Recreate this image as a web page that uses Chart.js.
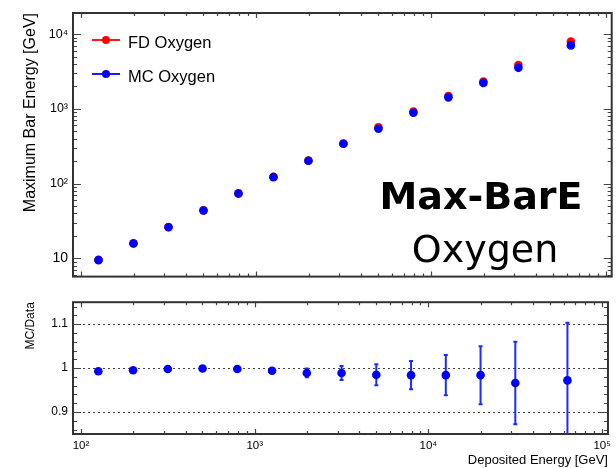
<!DOCTYPE html>
<html>
<head>
<meta charset="utf-8">
<script src="https://cdn.jsdelivr.net/npm/chart.js@4/dist/chart.umd.min.js"></script>
<style>
  html, body { margin: 0; padding: 0; background: #fff; }
  #wrap { position: relative; width: 616px; height: 468px; overflow: hidden; }
  #top { position: absolute; left: 0; top: 0; width: 616px; height: 290px; }
  #bot { position: absolute; left: 0; top: 290px; width: 616px; height: 178px; }
</style>
</head>
<body>
<div id="wrap">
  <div id="top"><canvas id="c1" width="616" height="290"></canvas></div>
  <div id="bot"><canvas id="c2" width="616" height="178"></canvas></div>
</div>
<script>
// Deposited energy bin centres [GeV]
const energies = [125.9, 199.5, 316.2, 501.2, 794.3, 1259, 1995, 3162, 5012, 7943, 12589, 19953, 31623, 63096];
// Maximum bar energy [GeV]
const fdOxygen = [9.6, 15.9, 26.3, 43.9, 74.0, 123, 204, 345, 569, 925, 1486, 2318, 3873, 7960];
const mcOxygen = [9.46, 15.8, 26.1, 43.7, 73.7, 122, 202, 341, 543, 889, 1428, 2227, 3545, 7074];
// MC / Data ratio and its uncertainty
const ratio    = [0.993, 0.995, 0.998, 0.999, 0.998, 0.994, 0.989, 0.989, 0.985, 0.984, 0.984, 0.984, 0.966, 0.972];
const ratioErr = [0.003, 0.003, 0.003, 0.003, 0.003, 0.004, 0.010, 0.016, 0.024, 0.032, 0.046, 0.066, 0.094, 0.131];
// Labelled ticks
const xDecades = [100, 1000, 10000, 100000];
const yDecades = [10, 100, 1000, 10000];
const ratioTicks = [0.9, 1.0, 1.1];

const FONT = '"Liberation Sans", "DejaVu Sans", Arial, sans-serif';
const SUP = { 2: '\u00B2', 3: '\u00B3', 4: '\u2074', 5: '\u2075' };
const powLabel = v => {
  const e = Math.round(Math.log10(v));
  return e === 1 ? '10' : '10' + SUP[e];
};

// minor tick positions of a log axis (2..9 per decade)
function logMinors(lo, hi) {
  const out = [];
  for (let d = 1; d <= 1e6; d *= 10) {
    for (let m = 2; m <= 9; m++) {
      const v = d * m;
      if (v > lo && v < hi) out.push(v);
    }
  }
  return out;
}

// frame around the plot area with inward tick marks on all four sides
const frameTicks = {
  id: 'frameTicks',
  beforeDatasetsDraw(chart, args, o) {
    const { ctx, chartArea: a, scales: { x, y } } = chart;
    ctx.save();
    // dotted reference lines
    if (o.dotted) {
      ctx.strokeStyle = '#444';
      ctx.lineWidth = 1;
      ctx.setLineDash([2, 3]);
      ctx.beginPath();
      for (const v of o.dotted) {
        const py = Math.round(y.getPixelForValue(v)) + 0.5;
        ctx.moveTo(a.left, py); ctx.lineTo(a.right, py);
      }
      ctx.stroke();
      ctx.setLineDash([]);
    }
    ctx.strokeStyle = '#444';
    ctx.lineWidth = 1.2;
    ctx.beginPath();
    const xs = (vals, len) => {
      for (const v of vals) {
        if (v < x.min || v > x.max) continue;
        const px = Math.round(x.getPixelForValue(v)) + 0.5;
        ctx.moveTo(px, a.bottom); ctx.lineTo(px, a.bottom - len);
        ctx.moveTo(px, a.top); ctx.lineTo(px, a.top + len);
      }
    };
    const ys = (vals, len) => {
      for (const v of vals) {
        if (v < y.min || v > y.max) continue;
        const py = Math.round(y.getPixelForValue(v)) + 0.5;
        ctx.moveTo(a.left, py); ctx.lineTo(a.left + len, py);
        ctx.moveTo(a.right, py); ctx.lineTo(a.right - len, py);
      }
    };
    xs(o.xMajor, 5); xs(o.xMinor, 3);
    ys(o.yMajor, 8); ys(o.yMinor, 4);
    ctx.stroke();
    ctx.strokeStyle = '#333';
    ctx.lineWidth = 2;
    ctx.strokeRect(a.left, a.top, a.right - a.left, a.bottom - a.top);
    ctx.restore();
  }
};

// vertical error bars on the ratio points
const errorBars = {
  id: 'errorBars',
  beforeDatasetsDraw(chart, args, o) {
    const { ctx, chartArea: a, scales: { x, y } } = chart;
    ctx.save();
    ctx.beginPath();
    ctx.rect(a.left, a.top, a.right - a.left, a.bottom - a.top);
    ctx.clip();
    ctx.strokeStyle = '#1a2cff';
    ctx.lineWidth = 2;
    ctx.beginPath();
    o.values.forEach((v, i) => {
      const px = x.getPixelForValue(o.xs[i]);
      const y1 = y.getPixelForValue(v + o.errs[i]);
      const y2 = y.getPixelForValue(v - o.errs[i]);
      ctx.moveTo(px, y1); ctx.lineTo(px, y2);
      ctx.moveTo(px - 2, y1); ctx.lineTo(px + 2, y1);
      ctx.moveTo(px - 2, y2); ctx.lineTo(px + 2, y2);
    });
    ctx.stroke();
    ctx.restore();
  }
};

// legend box and panel caption
const annotations = {
  id: 'annotations',
  afterDraw(chart) {
    const { ctx } = chart;
    ctx.save();
    const items = [['FD Oxygen', '#ff0000', 40], ['MC Oxygen', '#0000ff', 74]];
    for (const [label, col, yy] of items) {
      ctx.strokeStyle = col; ctx.lineWidth = 1.8;
      ctx.beginPath(); ctx.moveTo(92, yy); ctx.lineTo(120, yy); ctx.stroke();
      ctx.fillStyle = col;
      ctx.beginPath(); ctx.arc(106, yy, 4, 0, Math.PI * 2); ctx.fill();
      ctx.fillStyle = '#000';
      ctx.font = '16.5px ' + FONT;
      ctx.textAlign = 'left'; ctx.textBaseline = 'alphabetic';
      ctx.fillText(label, 128, yy + 7.7);
    }
    ctx.fillStyle = '#000';
    ctx.textAlign = 'center';
    ctx.font = 'bold 38px "DejaVu Sans", sans-serif';
    ctx.fillText('Max-BarE', 481, 209);
    ctx.font = '38px "DejaVu Sans", sans-serif';
    ctx.fillText('Oxygen', 485, 262);
    ctx.restore();
  }
};

const X_MIN = 90, X_MAX = 108000;
const pts = ys => energies.map((e, i) => ({ x: e, y: ys[i] }));

// upper panel: maximum bar energy vs deposited energy
new Chart(document.getElementById('c1'), {
  type: 'scatter',
  data: {
    datasets: [
      { label: 'MC Oxygen', data: pts(mcOxygen), backgroundColor: '#0000ff', borderColor: '#0000ff', pointRadius: 4.3, borderWidth: 0 },
      { label: 'FD Oxygen', data: pts(fdOxygen), backgroundColor: '#ff0000', borderColor: '#ff0000', pointRadius: 4.3, borderWidth: 0 }
    ]
  },
  options: {
    responsive: false, animation: false, devicePixelRatio: 1,
    layout: { padding: { top: 13, right: 2, left: 0, bottom: 0 } },
    plugins: {
      legend: { display: false }, tooltip: { enabled: false },
      frameTicks: { xMajor: xDecades, xMinor: logMinors(X_MIN, X_MAX), yMajor: yDecades, yMinor: logMinors(5.7, 19200) }
    },
    scales: {
      x: {
        type: 'logarithmic', min: X_MIN, max: X_MAX,
        grid: { display: false, drawTicks: false }, border: { display: false },
        ticks: { display: false },
        afterFit: s => { s.height = 3; }
      },
      y: {
        type: 'logarithmic', min: 5.7, max: 19200,
        grid: { display: false, drawTicks: false }, border: { display: false },
        afterBuildTicks: s => { s.ticks = yDecades.map(v => ({ value: v })); },
        ticks: {
          padding: 5, color: '#000',
          font: c => ({ family: FONT, size: (c.tick && c.tick.value === 10) ? 14 : 12.5 }),
          callback: v => powLabel(v)
        },
        title: { display: true, text: 'Maximum Bar Energy [GeV]', align: 'end', color: '#000',
                 font: { family: FONT, size: 16 }, padding: { top: 21, bottom: 0 } },
        afterFit: s => { s.width = 73; }
      }
    }
  },
  plugins: [frameTicks, annotations]
});

// lower panel: MC / Data ratio
new Chart(document.getElementById('c2'), {
  type: 'scatter',
  data: {
    datasets: [
      { label: 'MC/Data', data: pts(ratio), backgroundColor: '#0000ff', borderColor: '#0000ff', pointRadius: 4.3, borderWidth: 0 }
    ]
  },
  options: {
    responsive: false, animation: false, devicePixelRatio: 1,
    layout: { padding: { top: 11, right: 2, left: 0, bottom: 0 } },
    plugins: {
      legend: { display: false }, tooltip: { enabled: false },
      frameTicks: {
        xMajor: xDecades, xMinor: logMinors(X_MIN, X_MAX),
        yMajor: ratioTicks,
        yMinor: [0.86, 0.88, 0.92, 0.94, 0.96, 0.98, 1.02, 1.04, 1.06, 1.08, 1.12, 1.14],
        dotted: ratioTicks
      },
      errorBars: { xs: energies, values: ratio, errs: ratioErr }
    },
    scales: {
      x: {
        type: 'logarithmic', min: X_MIN, max: X_MAX,
        grid: { display: false, drawTicks: false }, border: { display: false },
        afterBuildTicks: s => { s.ticks = xDecades.map(v => ({ value: v })); },
        ticks: { padding: 5, color: '#000', maxRotation: 0, autoSkip: false,
                 font: { family: FONT, size: 11.5 }, callback: v => powLabel(v) },
        title: { display: true, text: 'Deposited Energy [GeV]', align: 'end', color: '#000',
                 font: { family: FONT, size: 13 }, padding: { top: 0, bottom: 0 } },
        afterFit: s => { s.height = 34; }
      },
      y: {
        min: 0.85, max: 1.15,
        grid: { display: false, drawTicks: false }, border: { display: false },
        afterBuildTicks: s => { s.ticks = ratioTicks.map(v => ({ value: v })); },
        ticks: { padding: 5, color: '#000', font: { family: FONT, size: 12 },
                 callback: v => String(Math.round(v * 10) / 10) },
        title: { display: true, text: 'MC/Data', align: 'end', color: '#000',
                 font: { family: FONT, size: 12 }, padding: { top: 23, bottom: 0 } },
        afterFit: s => { s.width = 73; }
      }
    }
  },
  plugins: [frameTicks, errorBars]
});
</script>
</body>
</html>
